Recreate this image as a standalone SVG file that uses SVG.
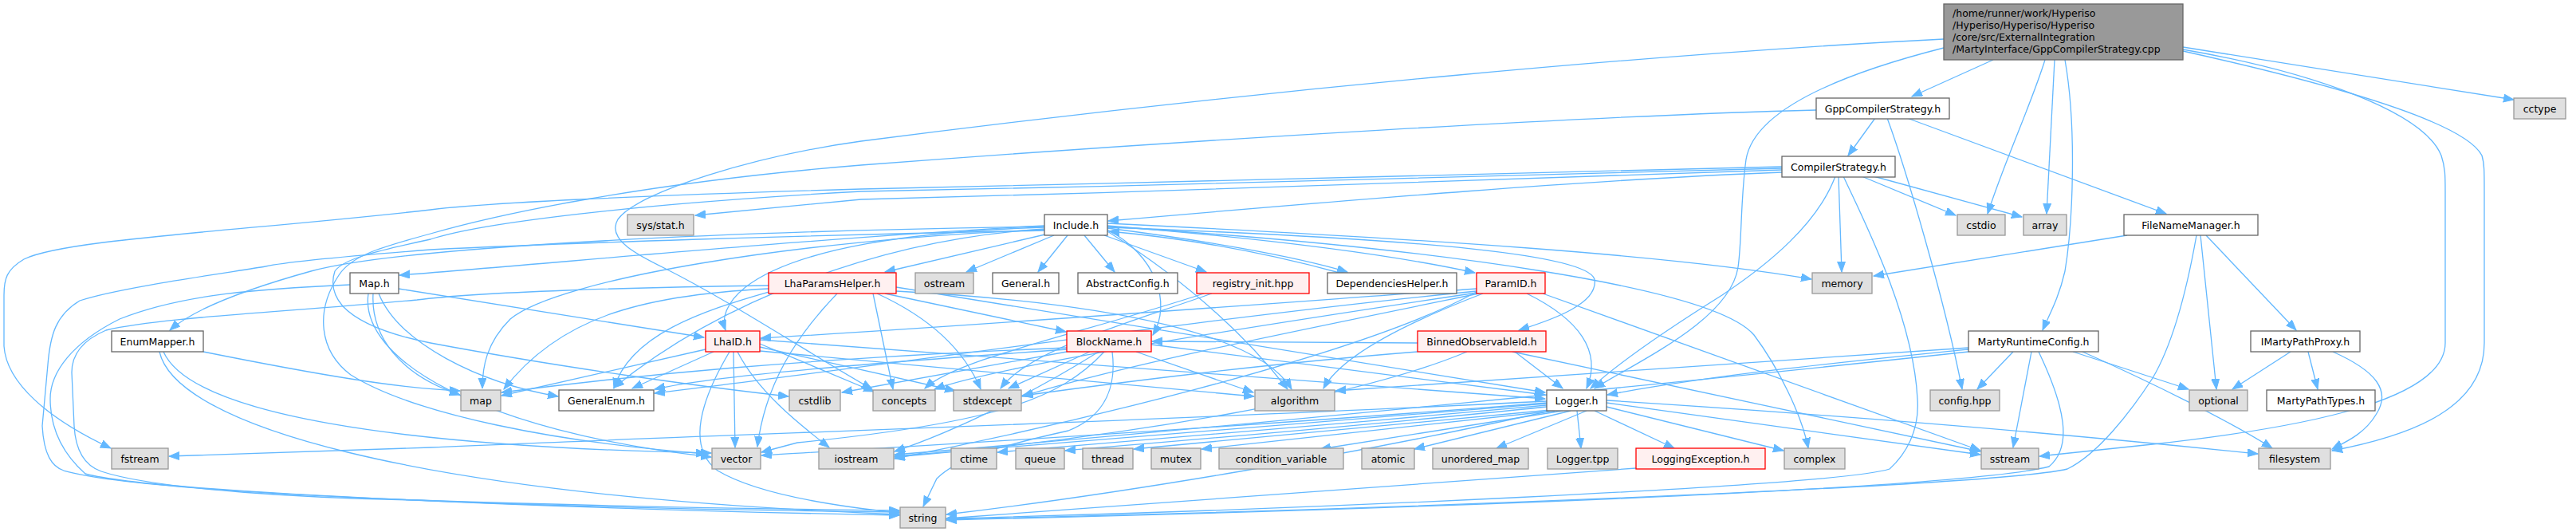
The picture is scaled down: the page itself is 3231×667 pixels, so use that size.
<svg xmlns="http://www.w3.org/2000/svg" width="3231" height="667" viewBox="0 0 3231 667">
<defs>
<style>
text{font-family:"DejaVu Sans","Liberation Sans",sans-serif;font-size:12.5px;fill:#000;text-anchor:middle}
rect{stroke-width:1.3}
.w rect{fill:#fff;stroke:#666}
.s rect{fill:#e0e0e0;stroke:#999}
.r rect{fill:#fff0f0;stroke:#f00}
.root rect{fill:#999;stroke:#666}
.root text{text-anchor:start}
#edges path{fill:none;stroke:#63b8ff;stroke-width:1.3;marker-end:url(#a)}
</style>
<marker id="a" markerWidth="14" markerHeight="11" refX="13" refY="5" orient="auto" markerUnits="userSpaceOnUse"><path d="M0,0 L13,5 L0,10 z" fill="#63b8ff" stroke="#63b8ff" stroke-width="1"/></marker>
</defs>
<rect width="3231" height="667" fill="#fff"/>
<g id="edges">
<!-- root -->
<path d="M2500,75 L2398,121"/>
<path d="M2565,75 C2548,130 2515,200 2493,268"/>
<path d="M2577,75 L2567,268"/>
<path d="M2590,75 C2605,160 2600,280 2590,340 C2582,375 2570,395 2562,414"/>
<path d="M2738,59 L3153,125"/>
<path d="M2738,62 C2900,90 3040,140 3062,195 C3067,210 3067,220 3067,240 L3067,430 C3067,500 2900,535 2700,557 L2558,572"/>
<path d="M2738,64 C2900,100 3090,150 3113,195 C3116,205 3116,215 3116,240 L3116,430 C3116,510 3030,545 2925,565"/>
<path d="M2438,49 C2100,66 1600,110 1080,177 C950,195 800,240 775,275 C760,300 800,320 835,337 C920,380 1010,440 1094,488"/>
<path d="M2438,60 C2300,95 2200,140 2190,200 C2183,250 2185,300 2180,335 C2170,400 2060,450 2000,487"/>
<!-- GppCompilerStrategy.h -->
<path d="M2352,148 L2318,195"/>
<path d="M2367,148 C2390,210 2440,380 2461,488"/>
<path d="M2392,148 L2717,268"/>
<path d="M2278,138 C2000,145 1500,175 1080,207 C800,230 620,270 540,293 C470,312 440,322 425,345 C395,390 400,440 440,470 C520,520 700,555 886,569"/>
<!-- CompilerStrategy.h -->
<path d="M2235,213 C2000,220 1500,240 1080,250 L872,270"/>
<path d="M2235,216 C2000,225 1700,250 1390,277"/>
<path d="M2235,209 C2000,214 1500,228 1080,237 C800,245 600,255 540,263 C300,290 80,300 30,325 C8,338 5,350 5,370 L5,434 C8,480 60,525 139,562"/>
<path d="M2235,211 C2000,218 1500,232 1080,240 C800,255 600,280 540,300 C470,315 430,325 420,340 C415,355 418,370 430,384 C450,405 490,420 540,430 C700,460 880,485 989,497"/>
<path d="M2306,221 L2310,341"/>
<path d="M2312,221 C2340,280 2400,400 2405,500 C2408,540 2390,570 2370,588 C2300,610 1600,640 1187,650"/>
<path d="M2302,221 C2280,280 2220,330 2160,370 C2080,420 2030,455 1995,487"/>
<path d="M2335,221 L2453,270"/>
<path d="M2350,221 L2536,272"/>
<!-- FileNameManager.h -->
<path d="M2668,295 L2350,346"/>
<path d="M2760,295 L2780,488"/>
<path d="M2767,295 L2880,414"/>
<path d="M2755,295 C2740,380 2720,440 2700,474 C2670,520 2630,570 2593,588 C2500,610 1700,640 1187,651"/>
<!-- IMartyPathProxy.h -->
<path d="M2873,441 L2800,488"/>
<path d="M2895,441 L2907,488"/>
<path d="M2926,441 C2980,465 3000,490 2980,520 C2965,545 2940,555 2925,563"/>
<!-- MartyRuntimeConfig.h -->
<path d="M2525,441 L2480,488"/>
<path d="M2548,441 L2525,561"/>
<path d="M2557,441 C2590,510 2600,560 2570,585 C2450,615 1700,640 1187,652"/>
<path d="M2600,441 L2745,488"/>
<path d="M2612,441 C2700,480 2800,530 2850,562"/>
<path d="M2469,438 C2300,455 2150,470 2016,495"/>
<path d="M2469,436 C2100,460 1800,480 1675,490"/>
<path d="M2469,441 C2200,470 1500,540 1122,570"/>
<!-- Logger.h -->
<path d="M1940,508 C1700,530 1400,555 1251,567"/>
<path d="M1940,510 C1700,535 1450,555 1336,565"/>
<path d="M1945,514 L1422,563"/>
<path d="M1950,515 L1507,563"/>
<path d="M1960,515 L1656,563"/>
<path d="M1970,515 L1774,563"/>
<path d="M1990,515 L1877,562"/>
<path d="M1978,515 L1983,562"/>
<path d="M2000,515 L2100,562"/>
<path d="M2015,510 L2237,565"/>
<path d="M2015,505 L2484,570"/>
<path d="M2015,502 C2300,520 2600,545 2832,569"/>
<path d="M1945,515 C1700,570 1400,620 1187,645"/>
<path d="M1940,505 C1500,540 1100,562 955,571"/>
<path d="M1940,506 L1122,572"/>
<path d="M1940,503 C1400,530 900,545 540,561 L212,572"/>
<!-- LoggingException.h -->
<path d="M2052,587 C1800,605 1500,625 1187,650"/>
<!-- ParamID.h -->
<path d="M1915,368 C1980,400 2010,440 1990,487"/>
<path d="M1852,362 C1600,380 1200,410 954,424"/>
<path d="M1852,365 C1500,400 1100,460 821,493"/>
<path d="M1860,368 C1750,410 1680,450 1660,487"/>
<path d="M1855,368 C1600,420 1400,460 1282,497"/>
<path d="M1852,367 C1500,420 1250,460 1172,488"/>
<path d="M1935,368 L2484,565"/>
<path d="M1852,366 C1700,450 1300,540 1122,575"/>
<!-- BinnedObservableId.h -->
<path d="M1900,441 L1960,487"/>
<path d="M1778,430 L1445,428"/>
<path d="M1778,441 C1600,455 1400,480 1283,496"/>
<path d="M1840,441 C1700,500 1400,550 1122,573"/>
<path d="M1897,441 L2484,566"/>
<!-- BlockName.h -->
<path d="M1367,441 L1265,487"/>
<path d="M1425,441 L1572,492"/>
<path d="M1395,441 C1400,480 1390,520 1340,540 C1250,560 1200,575 1175,600 L1158,635"/>
<path d="M1385,441 C1330,500 1250,530 1000,555 L955,567"/>
<path d="M1378,441 C1300,490 1200,540 1122,566"/>
<path d="M1338,436 C1000,450 800,470 629,492"/>
<path d="M1338,438 C1100,455 900,470 821,488"/>
<path d="M1444,432 L1938,495"/>
<path d="M1338,441 L1056,492"/>
<!-- LhaID.h -->
<path d="M885,438 L629,496"/>
<path d="M895,441 L793,487"/>
<path d="M920,441 L922,561"/>
<path d="M925,441 C950,490 1000,530 1040,561"/>
<path d="M915,441 C880,500 860,560 900,590 C950,620 1050,635 1128,643"/>
<path d="M953,431 L1096,491"/>
<path d="M953,435 L1198,490"/>
<path d="M953,440 L1573,497"/>
<path d="M953,426 L1938,500"/>
<!-- LhaParamsHelper.h -->
<path d="M964,362 C800,370 700,400 632,488"/>
<path d="M964,366 C880,390 790,420 770,487"/>
<path d="M1110,368 L1337,416"/>
<path d="M1095,368 L1120,488"/>
<path d="M1100,368 C1170,400 1210,440 1230,488"/>
<path d="M1124,365 C1400,380 1580,420 1620,488"/>
<path d="M1124,360 L1938,492"/>
<path d="M964,358 C800,360 600,366 523,376 C350,392 200,398 133,414 C100,428 90,448 90,467 L93,534 C95,570 110,585 127,591 C200,615 400,625 523,627 C700,633 950,638 1128,640"/>
<path d="M1050,368 C1000,420 960,480 950,560"/>
<!-- Map.h -->
<path d="M500,362 L883,423"/>
<path d="M468,368 C465,420 500,470 577,495"/>
<path d="M475,368 C500,430 600,480 700,497"/>
<path d="M462,368 C450,450 600,540 892,573"/>
<path d="M439,357 C330,362 230,368 150,400 C90,430 63,467 63,500 C63,540 80,570 107,594 C200,620 800,640 1128,646"/>
<!-- EnumMapper.h -->
<path d="M255,441 C400,470 500,487 577,490"/>
<path d="M205,441 C240,520 500,560 892,568"/>
<path d="M200,441 C220,530 500,620 1128,645"/>
<!-- registry_init.hpp -->
<path d="M1510,368 C1350,420 1200,450 1160,487"/>
<path d="M1520,368 C1400,410 1290,440 1255,487"/>
<!-- DependenciesHelper.h -->
<path d="M1680,342 C1600,320 1500,300 1391,290"/>
<!-- Include.h -->
<path d="M1315,293 L1110,341"/>
<path d="M1322,295 L1212,341"/>
<path d="M1339,295 L1302,341"/>
<path d="M1360,295 L1398,341"/>
<path d="M1385,295 L1513,341"/>
<path d="M1389,286 C1500,300 1620,320 1690,341"/>
<path d="M1389,283 C1600,300 1750,320 1850,342"/>
<path d="M1389,280 C1800,300 2100,320 2272,350"/>
<path d="M1310,283 C1000,300 700,330 501,345"/>
<path d="M1310,284 C900,290 500,310 390,340 C300,365 240,390 213,414"/>
<path d="M1310,285 C1150,290 1000,310 935,360 C910,380 905,400 910,414"/>
<path d="M1310,287 C1100,300 900,380 770,486"/>
<path d="M1310,288 C1000,300 700,350 640,400 C610,430 605,460 605,487"/>
<path d="M1310,289 C1000,295 700,305 540,313 C450,320 360,328 333,334 C300,340 150,360 100,377 C70,395 63,420 60,457 L53,534 C55,570 65,585 80,590 C150,610 400,622 523,627 C700,635 950,640 1128,642"/>
<path d="M1389,288 C1450,320 1470,380 1446,420"/>
<path d="M1389,285 C1800,300 1990,320 2000,350 C2005,380 1950,400 1905,414"/>
<path d="M1389,284 C1800,310 2150,360 2200,420 C2230,460 2260,520 2268,562"/>
<path d="M1389,290 C1500,360 1570,430 1615,488"/>
</g>
<g id="n_root" class="root"><rect x="2438" y="5" width="300" height="70"/><text x="2449" y="21">/home/runner/work/Hyperiso</text><text x="2449" y="36">/Hyperiso/Hyperiso/Hyperiso</text><text x="2449" y="51">/core/src/ExternalIntegration</text><text x="2449" y="66">/MartyInterface/GppCompilerStrategy.cpp</text></g>
<g id="n_gppcs" class="w"><rect x="2278" y="123" width="167" height="26"/><text x="2361.5" y="140.5">GppCompilerStrategy.h</text></g>
<g id="n_cctype" class="s"><rect x="3153" y="123" width="65" height="26"/><text x="3185.5" y="140.5">cctype</text></g>
<g id="n_comps" class="w"><rect x="2235" y="196" width="142" height="26"/><text x="2306" y="213.5">CompilerStrategy.h</text></g>
<g id="n_sysstat" class="s"><rect x="787" y="269" width="83" height="26"/><text x="828.5" y="286.5">sys/stat.h</text></g>
<g id="n_include" class="w"><rect x="1310" y="269" width="79" height="26"/><text x="1349.5" y="286.5">Include.h</text></g>
<g id="n_cstdio" class="s"><rect x="2455" y="269" width="60" height="26"/><text x="2485" y="286.5">cstdio</text></g>
<g id="n_array" class="s"><rect x="2538" y="269" width="54" height="26"/><text x="2565" y="286.5">array</text></g>
<g id="n_fnm" class="w"><rect x="2664" y="269" width="168" height="26"/><text x="2748" y="286.5">FileNameManager.h</text></g>
<g id="n_map_h" class="w"><rect x="439" y="342" width="61" height="26"/><text x="469.5" y="359.5">Map.h</text></g>
<g id="n_lph" class="r"><rect x="964" y="342" width="160" height="26"/><text x="1044" y="359.5">LhaParamsHelper.h</text></g>
<g id="n_ostream" class="s"><rect x="1148" y="342" width="73" height="26"/><text x="1184.5" y="359.5">ostream</text></g>
<g id="n_general" class="w"><rect x="1245" y="342" width="83" height="26"/><text x="1286.5" y="359.5">General.h</text></g>
<g id="n_abscfg" class="w"><rect x="1352" y="342" width="125" height="26"/><text x="1414.5" y="359.5">AbstractConfig.h</text></g>
<g id="n_registry" class="r"><rect x="1501" y="342" width="141" height="26"/><text x="1571.5" y="359.5">registry_init.hpp</text></g>
<g id="n_deph" class="w"><rect x="1665" y="342" width="162" height="26"/><text x="1746" y="359.5">DependenciesHelper.h</text></g>
<g id="n_paramid" class="r"><rect x="1852" y="342" width="86" height="26"/><text x="1895" y="359.5">ParamID.h</text></g>
<g id="n_memory" class="s"><rect x="2273" y="342" width="75" height="26"/><text x="2310.5" y="359.5">memory</text></g>
<g id="n_enummapper" class="w"><rect x="140" y="415" width="115" height="26"/><text x="197.5" y="432.5">EnumMapper.h</text></g>
<g id="n_lhaid" class="r"><rect x="885" y="415" width="68" height="26"/><text x="919" y="432.5">LhaID.h</text></g>
<g id="n_blockname" class="r"><rect x="1338" y="415" width="106" height="26"/><text x="1391" y="432.5">BlockName.h</text></g>
<g id="n_binned" class="r"><rect x="1778" y="415" width="161" height="26"/><text x="1858.5" y="432.5">BinnedObservableId.h</text></g>
<g id="n_mrc" class="w"><rect x="2469" y="415" width="163" height="26"/><text x="2550.5" y="432.5">MartyRuntimeConfig.h</text></g>
<g id="n_impp" class="w"><rect x="2823" y="415" width="137" height="26"/><text x="2891.5" y="432.5">IMartyPathProxy.h</text></g>
<g id="n_map" class="s"><rect x="578" y="489" width="50" height="26"/><text x="603" y="506.5">map</text></g>
<g id="n_genenum" class="w"><rect x="701" y="489" width="119" height="26"/><text x="760.5" y="506.5">GeneralEnum.h</text></g>
<g id="n_cstdlib" class="s"><rect x="990" y="489" width="64" height="26"/><text x="1022" y="506.5">cstdlib</text></g>
<g id="n_concepts" class="s"><rect x="1095" y="489" width="78" height="26"/><text x="1134" y="506.5">concepts</text></g>
<g id="n_stdexcept" class="s"><rect x="1196" y="489" width="85" height="26"/><text x="1238.5" y="506.5">stdexcept</text></g>
<g id="n_algorithm" class="s"><rect x="1574" y="489" width="100" height="26"/><text x="1624" y="506.5">algorithm</text></g>
<g id="n_logger" class="w"><rect x="1940" y="489" width="75" height="26"/><text x="1977.5" y="506.5">Logger.h</text></g>
<g id="n_config" class="s"><rect x="2421" y="489" width="87" height="26"/><text x="2464.5" y="506.5">config.hpp</text></g>
<g id="n_optional" class="s"><rect x="2746" y="489" width="73" height="26"/><text x="2782.5" y="506.5">optional</text></g>
<g id="n_mpt" class="w"><rect x="2843" y="489" width="136" height="26"/><text x="2911" y="506.5">MartyPathTypes.h</text></g>
<g id="n_fstream" class="s"><rect x="140" y="562" width="71" height="26"/><text x="175.5" y="579.5">fstream</text></g>
<g id="n_vector" class="s"><rect x="893" y="562" width="61" height="26"/><text x="923.5" y="579.5">vector</text></g>
<g id="n_iostream" class="s"><rect x="1027" y="562" width="94" height="26"/><text x="1074" y="579.5">iostream</text></g>
<g id="n_ctime" class="s"><rect x="1193" y="562" width="57" height="26"/><text x="1221.5" y="579.5">ctime</text></g>
<g id="n_queue" class="s"><rect x="1274" y="562" width="61" height="26"/><text x="1304.5" y="579.5">queue</text></g>
<g id="n_thread" class="s"><rect x="1358" y="562" width="63" height="26"/><text x="1389.5" y="579.5">thread</text></g>
<g id="n_mutex" class="s"><rect x="1444" y="562" width="62" height="26"/><text x="1475" y="579.5">mutex</text></g>
<g id="n_condvar" class="s"><rect x="1529" y="562" width="156" height="26"/><text x="1607" y="579.5">condition_variable</text></g>
<g id="n_atomic" class="s"><rect x="1708" y="562" width="66" height="26"/><text x="1741" y="579.5">atomic</text></g>
<g id="n_umap" class="s"><rect x="1797" y="562" width="120" height="26"/><text x="1857" y="579.5">unordered_map</text></g>
<g id="n_loggertpp" class="s"><rect x="1941" y="562" width="88" height="26"/><text x="1985" y="579.5">Logger.tpp</text></g>
<g id="n_logexc" class="r"><rect x="2052" y="562" width="162" height="26"/><text x="2133" y="579.5">LoggingException.h</text></g>
<g id="n_complex" class="s"><rect x="2238" y="562" width="76" height="26"/><text x="2276" y="579.5">complex</text></g>
<g id="n_sstream" class="s"><rect x="2485" y="562" width="72" height="26"/><text x="2521" y="579.5">sstream</text></g>
<g id="n_filesystem" class="s"><rect x="2833" y="562" width="90" height="26"/><text x="2878" y="579.5">filesystem</text></g>
<g id="n_string" class="s"><rect x="1129" y="636" width="57" height="26"/><text x="1157.5" y="653.5">string</text></g>
</svg>
